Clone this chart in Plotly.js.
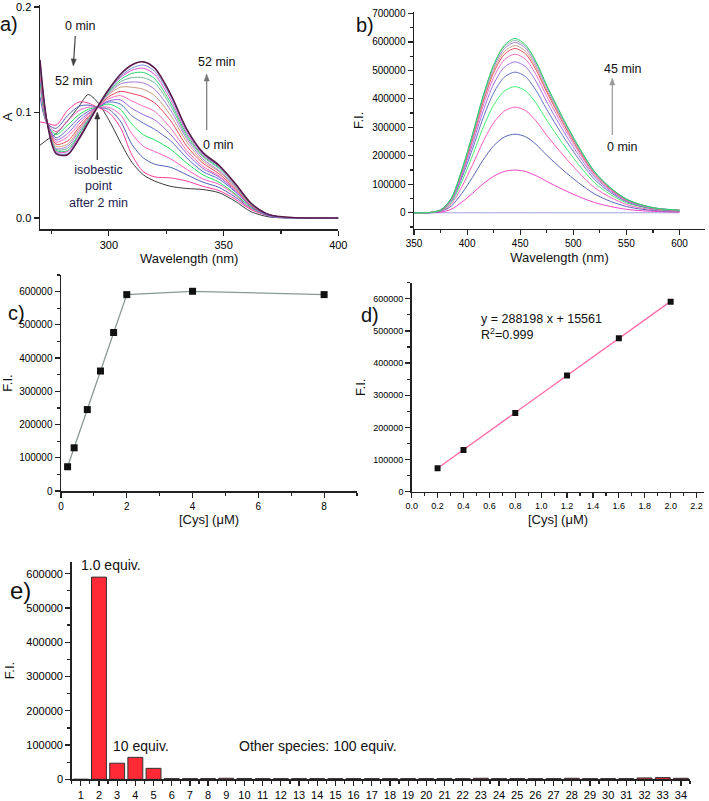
<!DOCTYPE html>
<html><head><meta charset="utf-8">
<script src="https://cdn.plot.ly/plotly-3.0.1.min.js"></script>
<style>html,body{margin:0;padding:0;background:#fff}#chart{width:709px;height:801px}</style>
</head><body><div id="chart"></div>
<script>
// ---------- Panel a: UV-Vis absorbance over time ----------
const a_wavelength = [270, 273, 277, 282, 287, 291, 295, 300, 305, 310, 315, 320, 327, 334, 341, 348, 355, 362, 370, 380, 400];
const a_0min  = [0.069, 0.074, 0.080, 0.092, 0.106, 0.117, 0.110, 0.093, 0.072, 0.053, 0.041, 0.035, 0.030, 0.028, 0.027, 0.024, 0.016, 0.006, 0.001, 0.000, 0.000];
const a_2min  = [0.091, 0.090, 0.088, 0.102, 0.110, 0.109, 0.105, 0.100, 0.086, 0.060, 0.044, 0.039, 0.038, 0.035, 0.030, 0.026, 0.018, 0.008, 0.002, 0.000, 0.000];
const a_t03 = [0.115, 0.090, 0.085, 0.097, 0.106, 0.107, 0.105, 0.103, 0.092, 0.070, 0.057, 0.051, 0.048, 0.041, 0.034, 0.029, 0.020, 0.009, 0.002, 0.000, 0.000];
const a_t04 = [0.125, 0.090, 0.082, 0.092, 0.102, 0.105, 0.105, 0.105, 0.098, 0.080, 0.068, 0.063, 0.056, 0.046, 0.037, 0.032, 0.022, 0.009, 0.002, 0.000, 0.000];
const a_t05 = [0.130, 0.090, 0.079, 0.088, 0.098, 0.103, 0.105, 0.108, 0.103, 0.089, 0.079, 0.074, 0.065, 0.052, 0.041, 0.034, 0.023, 0.010, 0.002, 0.000, 0.000];
const a_t06 = [0.135, 0.091, 0.076, 0.084, 0.095, 0.101, 0.105, 0.110, 0.108, 0.097, 0.090, 0.084, 0.073, 0.057, 0.044, 0.037, 0.025, 0.011, 0.002, 0.000, 0.000];
const a_t07 = [0.138, 0.091, 0.074, 0.080, 0.092, 0.099, 0.105, 0.111, 0.112, 0.104, 0.098, 0.093, 0.079, 0.061, 0.047, 0.039, 0.026, 0.011, 0.002, 0.000, 0.000];
const a_t08 = [0.140, 0.091, 0.072, 0.077, 0.089, 0.098, 0.105, 0.113, 0.116, 0.111, 0.106, 0.101, 0.085, 0.064, 0.049, 0.040, 0.027, 0.012, 0.003, 0.000, 0.000];
const a_t09 = [0.142, 0.091, 0.070, 0.073, 0.086, 0.096, 0.105, 0.115, 0.120, 0.118, 0.115, 0.109, 0.092, 0.068, 0.052, 0.042, 0.028, 0.012, 0.003, 0.000, 0.000];
const a_t10 = [0.144, 0.091, 0.068, 0.070, 0.084, 0.095, 0.105, 0.117, 0.124, 0.124, 0.122, 0.116, 0.097, 0.072, 0.054, 0.044, 0.029, 0.013, 0.003, 0.000, 0.000];
const a_t11 = [0.145, 0.091, 0.066, 0.068, 0.082, 0.094, 0.105, 0.118, 0.127, 0.129, 0.128, 0.122, 0.102, 0.075, 0.056, 0.045, 0.030, 0.013, 0.003, 0.000, 0.000];
const a_t12 = [0.146, 0.092, 0.065, 0.066, 0.080, 0.093, 0.105, 0.119, 0.129, 0.133, 0.133, 0.128, 0.106, 0.077, 0.058, 0.047, 0.031, 0.013, 0.003, 0.000, 0.000];
const a_t13 = [0.147, 0.092, 0.064, 0.064, 0.079, 0.092, 0.105, 0.120, 0.131, 0.137, 0.138, 0.132, 0.109, 0.079, 0.059, 0.048, 0.032, 0.013, 0.003, 0.000, 0.000];
const a_t14 = [0.148, 0.092, 0.063, 0.063, 0.077, 0.091, 0.105, 0.121, 0.133, 0.140, 0.142, 0.136, 0.112, 0.081, 0.060, 0.049, 0.032, 0.014, 0.003, 0.000, 0.000];
const a_t15 = [0.149, 0.092, 0.062, 0.061, 0.076, 0.091, 0.105, 0.121, 0.134, 0.142, 0.145, 0.139, 0.115, 0.083, 0.061, 0.049, 0.033, 0.014, 0.003, 0.000, 0.000];
const a_52min = [0.150, 0.092, 0.061, 0.060, 0.075, 0.090, 0.105, 0.122, 0.136, 0.145, 0.148, 0.142, 0.117, 0.084, 0.062, 0.050, 0.033, 0.014, 0.003, 0.0005, 0.000];

// ---------- Panel b: fluorescence over time ----------
const b_wavelength = [350, 365, 375, 385, 395, 405, 415, 425, 435, 445, 455, 465, 475, 490, 505, 520, 535, 550, 565, 580, 600];
const b_0min  = [0, 0, 0, 0, 0, 0, 0, 0, 0, 0, 0, 0, 0, 0, 0, 0, 0, 0, 0, 0, 0];
const b_s01 = [0, 0, 2000, 12000, 37000, 68000, 101000, 128000, 145000, 150000, 145000, 130000, 110000, 82000, 57000, 36000, 22000, 12000, 7000, 4000, 2000];
const b_s02 = [0, 0, 5000, 23000, 68000, 124000, 185000, 235000, 266000, 276000, 267000, 240000, 202000, 151000, 105000, 66000, 40000, 22000, 12000, 7000, 4000];
const b_s03 = [0, 1000, 6000, 30000, 91000, 167000, 249000, 316000, 357000, 371000, 359000, 322000, 272000, 204000, 142000, 88000, 54000, 29000, 16000, 9000, 5000];
const b_s04 = [0, 1000, 7000, 36000, 109000, 200000, 298000, 378000, 427000, 443000, 428000, 385000, 325000, 243000, 169000, 105000, 64000, 35000, 20000, 11000, 7000];
const b_s05 = [0, 1000, 8000, 41000, 122000, 223000, 332000, 421000, 476000, 494000, 478000, 429000, 363000, 271000, 189000, 117000, 71000, 39000, 22000, 12000, 7000];
const b_s06 = [0, 1000, 9000, 43000, 130000, 239000, 356000, 452000, 511000, 530000, 513000, 461000, 389000, 291000, 202000, 126000, 76000, 42000, 23000, 13000, 8000];
const b_s07 = [0, 1000, 9000, 46000, 137000, 251000, 374000, 475000, 537000, 557000, 539000, 484000, 409000, 306000, 213000, 132000, 80000, 44000, 25000, 14000, 8000];
const b_s08 = [0, 1000, 9000, 47000, 142000, 260000, 388000, 492000, 556000, 577000, 558000, 501000, 424000, 317000, 220000, 137000, 83000, 45000, 26000, 14000, 9000];
const b_s09 = [0, 1000, 10000, 48000, 144000, 265000, 394000, 500000, 566000, 587000, 568000, 510000, 431000, 322000, 224000, 139000, 85000, 46000, 26000, 14000, 9000];
const b_s10 = [0, 1000, 10000, 49000, 147000, 270000, 402000, 510000, 576000, 598000, 578000, 519000, 439000, 328000, 228000, 142000, 86000, 47000, 26000, 15000, 9000];
const b_s11 = [0, 1000, 10000, 50000, 149000, 273000, 407000, 516000, 583000, 605000, 585000, 526000, 444000, 332000, 231000, 144000, 87000, 48000, 27000, 15000, 9000];
const b_45min = [0, 1000, 10000, 50000, 150000, 275000, 410000, 520000, 588000, 612000, 590000, 530000, 448000, 335000, 233000, 145000, 88000, 48000, 27000, 15000, 9000];

// ---------- Panels c, d: concentration dependence ----------
const cys_conc = [0.2, 0.4, 0.8, 1.2, 1.6, 2, 4, 8];
const cys_fi   = [73000, 130000, 245000, 361000, 477000, 591000, 601000, 591000];
const lin_conc = [0.2, 0.4, 0.8, 1.2, 1.6, 2.0];
const lin_fi   = [73000, 130000, 245000, 361000, 477000, 591000];
const fit_slope = 288198;
const fit_intercept = 15561;

// ---------- Panel e: selectivity ----------
const e_species = [1,2,3,4,5,6,7,8,9,10,11,12,13,14,15,16,17,18,19,20,21,22,23,24,25,26,27,28,29,30,31,32,33,34];
const e_fi = [0, 590000, 47000, 64000, 32000, 2000, 2000, 2000, 3000, 2500, 2000, 2000, 2000, 2000, 2000, 2000, 2000, 2000, 2000, 2000, 2500, 2000, 3000, 2000, 2000, 2000, 2000, 3000, 2000, 2000, 2000, 4000, 5000, 3000];

// ---------- build ----------
const FONT = 'Liberation Sans, Arial, sans-serif';
const W = 709, H = 801;
const px = x => x / W;
const py = y => 1 - y / H;

const aSeries = [a_0min, a_2min, a_t03, a_t04, a_t05, a_t06, a_t07, a_t08, a_t09, a_t10, a_t11, a_t12, a_t13, a_t14, a_t15, a_52min];
const aColors = ['#3a3a3a', '#ff3c9a', '#5060b4', '#ff5cc0', '#22e060', '#5a6cc4', '#9a60e0', '#ff6ab8', '#e8405a', '#c89a7a', '#a878d8', '#70b49a', '#30d070', '#e050d0', '#7a90e0', '#5a1a4a'];
const bSeries = [b_0min, b_s01, b_s02, b_s03, b_s04, b_s05, b_s06, b_s07, b_s08, b_s09, b_s10, b_s11, b_45min];
const bColors = ['#a0a0dc', '#ee40c8', '#5a64b4', '#ff5abc', '#40ee70', '#6470c0', '#a070e0', '#e870c8', '#e84858', '#c8a080', '#a880d8', '#90b8a8', '#22d468'];

const traces = [];
aSeries.forEach((s, i) => traces.push({
  x: a_wavelength, y: s, type: 'scatter', mode: 'lines', xaxis: 'x', yaxis: 'y',
  line: {color: aColors[i], width: i === aSeries.length - 1 ? 1.6 : 1, shape: 'spline', smoothing: 0.8},
  hoverinfo: 'skip'
}));
bSeries.forEach((s, i) => traces.push({
  x: b_wavelength, y: s, type: 'scatter', mode: 'lines', xaxis: 'x2', yaxis: 'y2',
  line: {color: bColors[i], width: 1, shape: 'spline', smoothing: 0.8},
  hoverinfo: 'skip'
}));
traces.push({
  x: cys_conc, y: cys_fi, type: 'scatter', mode: 'lines+markers', xaxis: 'x3', yaxis: 'y3',
  line: {color: '#8a9898', width: 1.3},
  marker: {symbol: 'square', size: 7, color: '#111'}
});
traces.push({
  x: lin_conc, y: lin_conc.map(c => fit_slope * c + fit_intercept), type: 'scatter', mode: 'lines',
  xaxis: 'x4', yaxis: 'y4', line: {color: '#ff6aa8', width: 1.3}
});
traces.push({
  x: lin_conc, y: lin_fi, type: 'scatter', mode: 'markers', xaxis: 'x4', yaxis: 'y4',
  marker: {symbol: 'square', size: 6, color: '#111'}
});
traces.push({
  x: e_species, y: e_fi, type: 'bar', xaxis: 'x5', yaxis: 'y5', width: 0.82,
  marker: {color: '#ff2a36', line: {color: '#333', width: 1}}
});

function ax(o) {
  return Object.assign({
    showline: true, linecolor: '#222', linewidth: 1.5, mirror: false,
    ticks: 'outside', ticklen: 5, tickwidth: 1.2, tickcolor: '#222',
    showgrid: false, zeroline: false, fixedrange: true,
    tickfont: {family: FONT, size: 10, color: '#000'}
  }, o);
}
const titleFont = {family: FONT, size: 13, color: '#111'};

const layout = {
  width: W, height: H, margin: {l: 0, r: 0, t: 0, b: 0},
  paper_bgcolor: '#fff', plot_bgcolor: '#fff', showlegend: false, hovermode: false,
  font: {family: FONT},
  xaxis: ax({domain: [px(40), px(338.3)], anchor: 'y', range: [270, 400], dtick: 50, tick0: 0,
    minor: {dtick: 25, tick0: 0, ticks: 'outside', ticklen: 3, tickcolor: '#222'},
    tickfont: {family: FONT, size: 11, color: '#000'},
    title: {text: 'Wavelength (nm)', font: titleFont, standoff: 3}}),
  yaxis: ax({domain: [py(229), py(5)], anchor: 'x', range: [-0.0104, 0.2019], dtick: 0.1, tick0: 0, tickformat: '.1f',
    tickfont: {family: FONT, size: 11, color: '#000'},
    title: {text: 'A', font: titleFont, standoff: 4}}),
  xaxis2: ax({domain: [px(414), px(705)], anchor: 'y2', range: [350, 624], dtick: 50, tick0: 0,
    minor: {dtick: 25, tick0: 0, ticks: 'outside', ticklen: 3, tickcolor: '#222'},
    title: {text: 'Wavelength (nm)', font: titleFont, standoff: 4}}),
  yaxis2: ax({domain: [py(228.7), py(12)], anchor: 'x2', range: [-56000, 705000], dtick: 100000, tick0: 0, tickformat: 'd',
    minor: {dtick: 50000, tick0: 0, ticks: 'outside', ticklen: 3, tickcolor: '#222'},
    title: {text: 'F.I.', font: titleFont, standoff: 5}}),
  xaxis3: ax({domain: [px(61), px(357)], anchor: 'y3', range: [0, 9], dtick: 2, tick0: 0,
    minor: {dtick: 1, tick0: 0, ticks: 'outside', ticklen: 3, tickcolor: '#222'},
    title: {text: '[Cys] (μM)', font: titleFont, standoff: 4}}),
  yaxis3: ax({domain: [py(491), py(275)], anchor: 'x3', range: [0, 650000], dtick: 100000, tick0: 0, tickformat: 'd',
    minor: {dtick: 50000, tick0: 0, ticks: 'outside', ticklen: 3, tickcolor: '#222'},
    title: {text: 'F.I.', font: titleFont, standoff: 5}}),
  xaxis4: ax({domain: [px(411.7), px(704.3)], anchor: 'y4', range: [0, 2.26], dtick: 0.2, tick0: 0, tickformat: '.1f',
    minor: {dtick: 0.1, tick0: 0, ticks: 'outside', ticklen: 3, tickcolor: '#222'},
    tickfont: {family: FONT, size: 9, color: '#000'},
    title: {text: '[Cys] (μM)', font: titleFont, standoff: 5}}),
  yaxis4: ax({domain: [py(491.7), py(282.7)], anchor: 'x4', range: [0, 650000], dtick: 100000, tick0: 0, tickformat: 'd',
    minor: {dtick: 50000, tick0: 0, ticks: 'outside', ticklen: 3, tickcolor: '#222'},
    tickfont: {family: FONT, size: 9, color: '#000'},
    title: {text: 'F.I.', font: titleFont, standoff: 5}}),
  xaxis5: ax({domain: [px(71.7), px(690)], anchor: 'y5', range: [0.5, 34.5], tickvals: e_species, ticktext: e_species.map(String),
    minor: {dtick: 1, tick0: 0.5, ticks: 'outside', ticklen: 3, tickcolor: '#222'},
    tickfont: {family: FONT, size: 11, color: '#000'}}),
  yaxis5: ax({domain: [py(779.3), py(561.7)], anchor: 'x5', range: [0, 635000], dtick: 100000, tick0: 0, tickformat: 'd',
    minor: {dtick: 50000, tick0: 0, ticks: 'outside', ticklen: 3, tickcolor: '#222'},
    tickfont: {family: FONT, size: 11, color: '#000'},
    title: {text: 'F.I.', font: titleFont, standoff: 8}}),
  annotations: [],
  shapes: []
};

function txt(text, x, y, size, opts) {
  layout.annotations.push(Object.assign({
    text: text, xref: 'paper', yref: 'paper', x: px(x), y: py(y),
    xanchor: 'center', yanchor: 'middle', showarrow: false,
    font: {family: FONT, size: size, color: '#111'}
  }, opts || {}));
}
// vertical-ish arrow drawn as a line plus a filled head (tail -> head, pixel coords)
function arrow(tx, ty, hx, hy, color) {
  const dx = hx - tx, dy = hy - ty, L = Math.hypot(dx, dy);
  const ux = dx / L, uy = dy / L, len = 7, half = 2.6;
  const bx = hx - ux * len, by = hy - uy * len;
  layout.shapes.push({type: 'line', xref: 'paper', yref: 'paper',
    x0: px(tx), y0: py(ty), x1: px(bx), y1: py(by), line: {color: color, width: 1.2}});
  const p1 = [bx - uy * half, by + ux * half], p2 = [bx + uy * half, by - ux * half];
  layout.shapes.push({type: 'path', xref: 'paper', yref: 'paper',
    path: `M ${px(hx)} ${py(hy)} L ${px(p1[0])} ${py(p1[1])} L ${px(p2[0])} ${py(p2[1])} Z`,
    fillcolor: color, line: {color: color, width: 0.5}});
}
// panel labels
txt('a)', 9, 24, 20);
txt('b)', 365, 25, 20);
txt('c)', 16, 313, 20);
txt('d)', 370, 315, 20);
txt('e)', 20, 590, 24);
// panel a notes
txt('0 min', 80, 26, 12.5);
arrow(75.3, 36, 73.3, 66, '#444');
txt('52 min', 74, 81, 12.5);
txt('52 min', 217, 62, 12.5);
arrow(206.7, 130, 206.7, 74, '#777');
txt('0 min', 218, 145, 12.5);
arrow(97.3, 160, 97.3, 112, '#333');
txt('isobestic<br>point<br>after 2 min', 98, 186, 12.5, {font: {family: FONT, size: 12.5, color: '#1e1e50'}});
// panel b notes
txt('45 min', 623, 69, 12.5);
arrow(612.3, 135, 612.3, 78, '#999');
txt('0 min', 622, 147, 12.5);
// panel d notes
txt('y = 288198 x + 15561', 479, 319, 12.5, {xanchor: 'left'});
txt('R<sup>2</sup>=0.999', 479, 334, 12.5, {xanchor: 'left'});
// panel e notes
txt('1.0 equiv.', 111, 565, 14);
txt('10 equiv.', 141, 746, 14);
txt('Other species: 100 equiv.', 318, 746, 14);

Plotly.newPlot('chart', traces, layout, {staticPlot: true, displayModeBar: false});
</script></body></html>
